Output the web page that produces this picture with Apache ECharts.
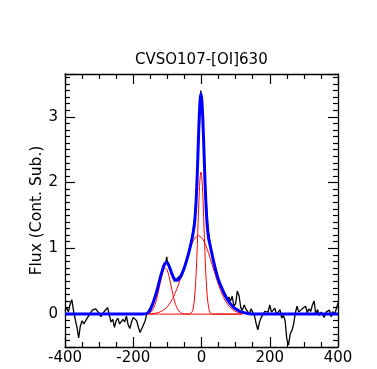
<!DOCTYPE html>
<html>
<head>
<meta charset="utf-8">
<script src="https://cdn.jsdelivr.net/npm/echarts@6/dist/echarts.min.js"></script>
<style>
  html, body { margin: 0; padding: 0; background: #fff; }
  #chart { width: 377px; height: 369px; }
</style>
</head>
<body>
<div id="chart"></div>
<script>
// observed spectrum [velocity km/s, flux]
var spectrum = [
  [-400, 0.05], [-395, 0.10], [-390, 0.03], [-385, 0.15], [-380, 0.22], [-375, 0.05],
  [-370, -0.08], [-365, -0.20], [-360, -0.36], [-355, -0.18], [-350, -0.10], [-345, -0.15],
  [-340, -0.12], [-335, -0.06], [-330, -0.03], [-325, 0.02], [-320, 0.06], [-315, 0.03],
  [-310, 0.08], [-305, 0.05], [-300, 0.01], [-295, -0.04], [-290, -0.02], [-285, 0.04],
  [-280, 0.02], [-275, 0.10], [-270, -0.02], [-265, -0.12], [-260, -0.08], [-255, -0.20],
  [-250, -0.10], [-245, -0.06], [-240, -0.15], [-235, -0.18], [-230, -0.08], [-225, -0.12],
  [-220, -0.03], [-215, -0.16], [-210, -0.22], [-205, -0.12], [-200, -0.05], [-195, -0.02],
  [-190, -0.10], [-185, -0.20], [-180, -0.28], [-175, -0.25], [-170, -0.16], [-165, -0.10],
  [-160, 0.01], [-155, 0.05], [-150, 0.08], [-145, 0.15], [-140, 0.20], [-135, 0.26],
  [-130, 0.38], [-125, 0.45], [-120, 0.60], [-115, 0.66], [-110, 0.72], [-105, 0.76],
  [-102, 0.87], [-100, 0.80], [-95, 0.72], [-90, 0.70], [-85, 0.58], [-80, 0.50],
  [-75, 0.48], [-70, 0.55], [-65, 0.52], [-60, 0.60], [-55, 0.66], [-50, 0.72],
  [-45, 0.80], [-40, 0.90], [-35, 1.00], [-30, 1.12], [-25, 1.25], [-20, 1.48],
  [-15, 1.80], [-10, 2.45], [-5, 3.00], [-2, 3.40], [0, 3.38], [3, 3.05],
  [5, 2.85], [10, 2.10], [15, 1.60], [20, 1.25], [25, 1.08], [30, 0.95],
  [35, 0.82], [40, 0.72], [45, 0.63], [50, 0.48], [55, 0.44], [60, 0.40],
  [65, 0.30], [70, 0.32], [75, 0.22], [80, 0.26], [85, 0.20], [90, 0.27],
  [95, 0.12], [100, 0.16], [105, 0.35], [110, 0.28], [115, 0.10], [120, 0.06],
  [125, 0.14], [130, 0.08], [135, 0.05], [140, 0.00], [145, 0.08], [150, 0.03],
  [155, -0.02], [160, -0.14], [165, -0.24], [170, -0.12], [175, -0.05], [180, -0.02],
  [185, 0.04], [190, 0.01], [195, 0.03], [200, 0.14], [205, 0.03], [210, 0.06],
  [215, 0.09], [220, -0.01], [225, 0.03], [230, 0.07], [235, -0.06], [240, -0.02],
  [245, -0.10], [250, -0.38], [255, -0.47], [260, -0.30], [265, -0.25], [270, -0.15],
  [275, 0.02], [280, 0.12], [285, 0.03], [290, 0.06], [295, 0.08], [300, 0.05],
  [305, 0.12], [310, 0.02], [315, 0.08], [320, 0.04], [325, 0.14], [330, 0.20],
  [335, -0.01], [340, 0.07], [345, -0.02], [350, 0.03], [355, 0.01], [360, -0.05],
  [365, 0.03], [370, 0.01], [375, 0.06], [380, -0.04], [385, 0.04], [390, -0.01],
  [395, 0.02], [400, 0.17]
];

// total fit (blue)
var fitTotal = [
  [-400, 0], [-170, 0], [-160, 0.01], [-155, 0.03], [-150, 0.07], [-145, 0.13],
  [-140, 0.20], [-135, 0.28], [-130, 0.37], [-125, 0.47], [-120, 0.57], [-115, 0.66],
  [-110, 0.74], [-105, 0.78], [-100, 0.78], [-95, 0.73], [-90, 0.66], [-85, 0.59],
  [-80, 0.54], [-75, 0.515], [-70, 0.515], [-65, 0.54], [-60, 0.58], [-55, 0.64],
  [-50, 0.71], [-45, 0.79], [-40, 0.88], [-35, 0.98], [-30, 1.09], [-25, 1.22],
  [-20, 1.40], [-16, 1.70], [-13, 2.05], [-10, 2.50], [-7, 2.95], [-4, 3.26],
  [-1.5, 3.35], [1, 3.25], [4, 2.95], [7, 2.52], [10, 2.05], [13, 1.68],
  [17, 1.33], [21, 1.15], [25, 1.05], [30, 0.93], [35, 0.81], [40, 0.70],
  [45, 0.60], [50, 0.52], [55, 0.45], [60, 0.39], [65, 0.33], [70, 0.28],
  [75, 0.23], [80, 0.19], [85, 0.155], [90, 0.125], [95, 0.10], [100, 0.08],
  [110, 0.05], [120, 0.03], [130, 0.015], [140, 0.005], [150, 0], [400, 0]
];

// gaussian components (red)
var compBlueShifted = [
  [-160, 0.004], [-156, 0.009], [-151, 0.021], [-146, 0.044], [-141, 0.084], [-136, 0.148],
  [-131, 0.237], [-126, 0.350], [-121, 0.475], [-116, 0.589], [-111, 0.671], [-106, 0.70],
  [-101, 0.671], [-96, 0.589], [-91, 0.475], [-86, 0.350], [-81, 0.237], [-76, 0.148],
  [-71, 0.084], [-66, 0.044], [-61, 0.021], [-56, 0.009], [-51, 0.004], [-46, 0.001],
  [-40, 0], [120, 0]
];
var compBroad = [
  [-160, 0.002], [-149, 0.005], [-139, 0.010], [-129, 0.020], [-119, 0.039], [-109, 0.070],
  [-99, 0.120], [-89, 0.194], [-84, 0.242], [-79, 0.297], [-74, 0.359], [-69, 0.429],
  [-64, 0.505], [-59, 0.586], [-54, 0.670], [-49, 0.756], [-44, 0.841], [-39, 0.922],
  [-34, 0.997], [-29, 1.063], [-24, 1.116], [-19, 1.157], [-14, 1.182], [-9, 1.19],
  [-4, 1.182], [1, 1.157], [6, 1.116], [11, 1.063], [16, 0.997], [21, 0.922],
  [26, 0.841], [31, 0.756], [36, 0.670], [41, 0.586], [46, 0.505], [51, 0.429],
  [56, 0.359], [61, 0.297], [66, 0.242], [71, 0.194], [81, 0.120], [91, 0.070],
  [101, 0.039], [111, 0.020], [120, 0.010]
];
var compNarrow = [
  [-160, 0], [-40, 0], [-35, 0.002], [-30, 0.014], [-25, 0.071], [-20, 0.26],
  [-16, 0.59], [-13, 0.95], [-10, 1.38], [-7, 1.79], [-4, 2.08], [-1.5, 2.16],
  [1, 2.08], [4, 1.79], [7, 1.38], [10, 0.95], [13, 0.59], [17, 0.26],
  [22, 0.071], [27, 0.014], [32, 0.002], [37, 0], [120, 0]
];

var font = "DejaVu Sans";
var chart = echarts.init(document.getElementById("chart"));

function xAx(pos, labels) {
  return {
    type: "value", position: pos, min: -400, max: 400, interval: 200,
    axisLine: { show: true, onZero: false, lineStyle: { color: "#000", width: 1.3 } },
    axisTick: { show: true, inside: true, length: 10, lineStyle: { color: "#000", width: 1.2 } },
    minorTick: { show: true, splitNumber: 4, length: 5, lineStyle: { color: "#000", width: 1.2 } },
    splitLine: { show: false },
    axisLabel: { show: labels, color: "#000", fontSize: 15, fontFamily: font, margin: 4 }
  };
}
function yAx(pos, labels) {
  var ax = {
    type: "value", position: pos, min: -0.5, max: 3.65,
    minInterval: 1, maxInterval: 1, splitNumber: 4,
    axisLine: { show: true, onZero: false, lineStyle: { color: "#000", width: 1.3 } },
    axisTick: { show: true, inside: true, length: 10, lineStyle: { color: "#000", width: 1.2 } },
    minorTick: { show: true, splitNumber: 10, length: 5, lineStyle: { color: "#000", width: 1.2 } },
    splitLine: { show: false },
    axisLabel: { show: labels, color: "#000", fontSize: 15, fontFamily: font, margin: 7,
      showMinLabel: false, showMaxLabel: false }
  };
  if (labels) {
    ax.name = "Flux (Cont. Sub.)";
    ax.nameLocation = "middle";
    ax.nameGap = 20;
    ax.nameMoveOverlap = false;
    ax.nameTextStyle = { color: "#000", fontSize: 15.5, fontFamily: font };
  }
  return ax;
}

function redLine(data) {
  return {
    type: "line", data: data, showSymbol: false, smooth: 0.3,
    lineStyle: { color: "#ff0000", width: 1 }, z: 3
  };
}

var option = {
  animation: false,
  title: {
    text: "CVSO107-[OI]630", left: 130, top: 48,
    textStyle: { color: "#000", fontSize: 15, fontWeight: "normal", fontFamily: font }
  },
  grid: { left: 65, right: 39, top: 74, bottom: 22 },
  xAxis: [xAx("bottom", true), xAx("top", false)],
  yAxis: [yAx("left", true), yAx("right", false)],
  series: [
    {
      type: "line", data: spectrum, showSymbol: false,
      lineStyle: { color: "#000", width: 1.3 }, z: 2
    },
    redLine(compBlueShifted),
    redLine(compBroad),
    redLine(compNarrow),
    {
      type: "line", data: fitTotal, showSymbol: false, smooth: 0.3,
      lineStyle: { color: "#0000ff", width: 3 }, z: 4
    }
  ]
};
chart.setOption(option);
</script>
</body>
</html>
